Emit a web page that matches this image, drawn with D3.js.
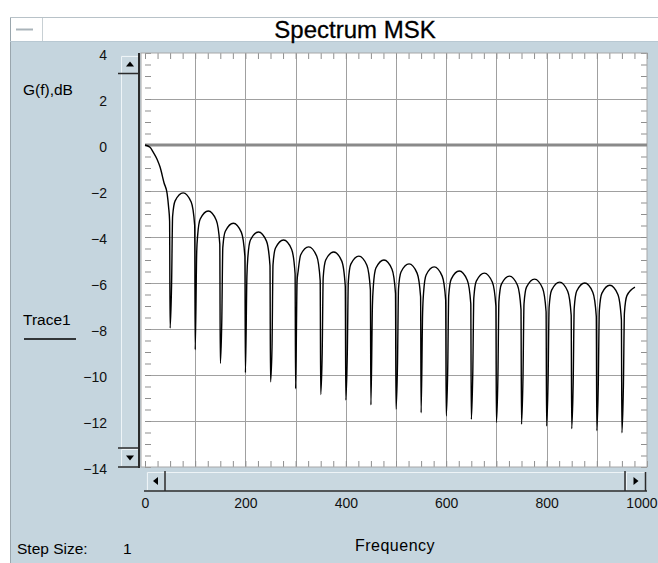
<!DOCTYPE html>
<html>
<head>
<meta charset="utf-8">
<script src="https://cdnjs.cloudflare.com/ajax/libs/d3/7.8.5/d3.min.js"></script>
<style>
  body { margin: 0; background: #fff; }
  svg { display: block; font-family: "Liberation Sans", Arial, sans-serif; }
</style>
</head>
<body>
<div id="chart"></div>
<script>
var title = 'Spectrum MSK'
var yLabel = 'G(f),dB'
var xLabel = 'Frequency'
var traceName = 'Trace1'
var stepLabel = 'Step Size:'
var stepSize = 1
var xTicks = [0, 200, 400, 600, 800, 1000]
var yTicks = [4, 2, 0, -2, -4, -6, -8, -10, -12, -14]

// main lobe, 0..49
var mainFreq = [0, 10, 16, 24, 30, 38, 44, 47, 49]
var mainDb = [0, -0.1, -0.3, -0.62, -0.96, -1.65, -2.1, -2.7, -3.3]

// nulls: deep tip of each spike and the end of its thick part
var nullFreq = [50, 100, 150, 200, 250, 300, 350, 400, 450, 500, 550, 600, 650, 700, 750, 800, 850, 900, 950]
var nullDeep = [-7.96, -8.9, -9.5, -9.9, -10.3, -10.6, -10.85, -11.09, -11.3, -11.49, -11.64, -11.78, -11.93, -12.07, -12.14, -12.22, -12.33, -12.42, -12.51]
var nullMid = [-6.0, -4.65, -7.6, -5.7, -8.8, -5.9, -9.0, -9.06, -7.0, -9.5, -7.3, -9.78, -9.86, -10.07, -10.07, -10.2, -10.29, -10.36, -10.48]

// side lobes after each null (last one is cut at 975)
var lobePeak = [-2.08, -2.87, -3.4, -3.78, -4.13, -4.43, -4.65, -4.83, -5.0, -5.17, -5.3, -5.48, -5.57, -5.7, -5.83, -5.96, -6.0, -6.1, -6.18]
var lobeEdgeIn = [-3.1, -3.9, -4.45, -4.85, -5.2, -5.5, -5.75, -5.95, -6.1, -6.25, -6.4, -6.55, -6.65, -6.8, -6.9, -7.05, -7.1, -7.2, -7.3]
var lobeRise = [-2.43, -3.22, -3.75, -4.13, -4.48, -4.78, -5.0, -5.18, -5.35, -5.52, -5.65, -5.83, -5.92, -6.05, -6.18, -6.31, -6.35, -6.45, -6.55]
var lobeFall = [-2.48, -3.27, -3.8, -4.18, -4.53, -4.83, -5.05, -5.23, -5.4, -5.57, -5.7, -5.88, -5.97, -6.1, -6.23, -6.36, -6.4, -6.5]
var lobeEdgeOut = [-3.5, -4.3, -4.85, -5.25, -5.6, -5.9, -6.15, -6.3, -6.45, -6.6, -6.75, -6.9, -7.0, -7.15, -7.25, -7.4, -7.45, -7.6]

var W = 658, H = 563
var bg = '#c5d5de'

var svg = d3.select('#chart').append('svg')
  .attr('width', W)
  .attr('height', H)

// ---------- frame / title bar ----------
svg.append('rect').attr('x', 0).attr('y', 0).attr('width', W).attr('height', H).attr('fill', '#fff')
svg.append('rect').attr('x', 10).attr('y', 41).attr('width', W - 10).attr('height', H - 41).attr('fill', bg)
svg.append('line').attr('x1', 10.5).attr('x2', 10.5).attr('y1', 17).attr('y2', H).attr('stroke', '#9aa6ad')
svg.append('line').attr('x1', 10).attr('x2', W).attr('y1', 17.5).attr('y2', 17.5).attr('stroke', '#b8c2c8')
svg.append('line').attr('x1', 10).attr('x2', W).attr('y1', 41.5).attr('y2', 41.5).attr('stroke', '#b8c8d2')
svg.append('line').attr('x1', 42.5).attr('x2', 42.5).attr('y1', 18).attr('y2', 41).attr('stroke', '#c8d0d4')
svg.append('line').attr('x1', 16).attr('x2', 33).attr('y1', 29.5).attr('y2', 29.5).attr('stroke', '#aab4ba').attr('stroke-width', 2)

svg.append('text')
  .attr('x', 355).attr('y', 38)
  .attr('text-anchor', 'middle')
  .attr('font-size', 24)
  .attr('fill', '#000')
  .attr('stroke', '#000').attr('stroke-width', 0.3)
  .text(title)

// ---------- scales ----------
var x = d3.scaleLinear().domain([0, 1000]).range([145, 647])
var y = d3.scaleLinear().domain([-14, 4]).range([467, 53])

// plot area
svg.append('rect')
  .attr('x', 141).attr('y', y(4))
  .attr('width', x(1000) - 141).attr('height', y(-14) - y(4))
  .attr('fill', '#fff')

// grid
var gridX = d3.range(100, 1000, 100)
var gridY = d3.range(-12, 4, 2).filter(function(d){ return d !== 0 })
svg.append('g').selectAll('line').data(gridX).enter().append('line')
  .attr('x1', function(d){ return Math.round(x(d)) + 0.5 })
  .attr('x2', function(d){ return Math.round(x(d)) + 0.5 })
  .attr('y1', y(4)).attr('y2', y(-14))
  .attr('stroke', '#a0a0a0')
svg.append('g').selectAll('line').data(gridY).enter().append('line')
  .attr('y1', function(d){ return Math.round(y(d)) + 0.5 })
  .attr('y2', function(d){ return Math.round(y(d)) + 0.5 })
  .attr('x1', x(0)).attr('x2', x(1000))
  .attr('stroke', '#a0a0a0')

// minor ticks on all four sides, pointing inwards
function tickStyle(g){
  g.select('.domain').remove()
  g.selectAll('.tick line').attr('stroke', '#8f8f8f')
  g.selectAll('.tick text').remove()
}
var minorX = d3.range(0, 1001, 25)
var minorY = d3.range(-14, 4.01, 0.5)
svg.append('g').attr('transform', 'translate(0,' + y(4) + ')')
  .call(d3.axisBottom(x).tickValues(minorX).tickSize(6)).call(tickStyle)
svg.append('g').attr('transform', 'translate(0,' + y(-14) + ')')
  .call(d3.axisTop(x).tickValues(minorX).tickSize(6)).call(tickStyle)
svg.append('g').attr('transform', 'translate(' + x(0) + ',0)')
  .call(d3.axisRight(y).tickValues(minorY).tickSize(6)).call(tickStyle)
svg.append('g').attr('transform', 'translate(' + x(1000) + ',0)')
  .call(d3.axisLeft(y).tickValues(minorY).tickSize(6)).call(tickStyle)

// plot border
svg.append('rect')
  .attr('x', 141).attr('y', y(4))
  .attr('width', x(1000) - 141).attr('height', y(-14) - y(4))
  .attr('fill', 'none').attr('stroke', '#a8a8a8')

// zero line
svg.append('line')
  .attr('x1', x(0)).attr('x2', x(1000))
  .attr('y1', y(0)).attr('y2', y(0))
  .attr('stroke', '#8a8a8a').attr('stroke-width', 3)

// ---------- trace ----------
var pts = []
for (var i = 0; i < mainFreq.length; i++) pts.push([mainFreq[i], mainDb[i]])
for (var k = 0; k < nullFreq.length; k++) {
  var f = nullFreq[k]
  pts.push([f, nullDeep[k]])
  pts.push([f + 3, nullMid[k]])
  pts.push([f + 5, lobeEdgeIn[k]])
  pts.push([f + 10, lobeRise[k]])
  pts.push([f + 26, lobePeak[k]])
  if (k < lobeFall.length) {
    pts.push([f + 42, lobeFall[k]])
    pts.push([f + 49, lobeEdgeOut[k]])
  }
}

var line = d3.line()
  .x(function(d){ return x(d[0]) })
  .y(function(d){ return y(d[1]) })
  .curve(d3.curveMonotoneX)

svg.append('path')
  .datum(pts)
  .attr('d', line)
  .attr('fill', 'none')
  .attr('stroke', '#000')
  .attr('stroke-width', 1.4)

// ---------- scrollbars ----------
function button(gx, gy, w, h, dir){
  var g = svg.append('g')
  g.append('rect').attr('x', gx).attr('y', gy).attr('width', w).attr('height', h).attr('fill', '#c9d8e0')
  g.append('path').attr('d', 'M' + (gx + 0.5) + ',' + (gy + h) + 'V' + (gy + 0.5) + 'H' + (gx + w))
    .attr('stroke', '#eef4f7').attr('fill', 'none')
  var cx = gx + w / 2, cy = gy + h / 2, s = 4
  var p
  if (dir === 'up') p = [[cx - s, cy + 2], [cx + s, cy + 2], [cx, cy - 3]]
  if (dir === 'down') p = [[cx - s, cy - 2], [cx + s, cy - 2], [cx, cy + 3]]
  if (dir === 'left') p = [[cx + 2, cy - s], [cx + 2, cy + s], [cx - 3, cy]]
  if (dir === 'right') p = [[cx - 2, cy - s], [cx - 2, cy + s], [cx + 3, cy]]
  g.append('path').attr('d', 'M' + p.join('L') + 'Z').attr('fill', '#000')
}

// vertical
svg.append('rect').attr('x', 121).attr('y', 55).attr('width', 18).attr('height', 411).attr('fill', '#c9d8e0')
svg.append('line').attr('x1', 121.5).attr('x2', 121.5).attr('y1', 73).attr('y2', 448).attr('stroke', '#eef4f7')
button(121, 56, 18, 17, 'up')
button(121, 449, 18, 17, 'down')
svg.append('line').attr('x1', 118).attr('x2', 140).attr('y1', 73.5).attr('y2', 73.5).attr('stroke', '#2b2b2b').attr('stroke-width', 1.5)
svg.append('line').attr('x1', 118).attr('x2', 140).attr('y1', 448).attr('y2', 448).attr('stroke', '#2b2b2b').attr('stroke-width', 1.5)
svg.append('line').attr('x1', 118).attr('x2', 140).attr('y1', 467).attr('y2', 467).attr('stroke', '#2b2b2b').attr('stroke-width', 1.5)
svg.append('line').attr('x1', 139).attr('x2', 139).attr('y1', 53).attr('y2', 468).attr('stroke', '#2b2b2b').attr('stroke-width', 2)

// horizontal
svg.append('rect').attr('x', 146).attr('y', 472).attr('width', 500).attr('height', 18).attr('fill', '#c9d8e0')
svg.append('line').attr('x1', 165).attr('x2', 625).attr('y1', 472.5).attr('y2', 472.5).attr('stroke', '#eef4f7')
button(147, 472, 18, 18, 'left')
button(626, 472, 19, 18, 'right')
svg.append('line').attr('x1', 165).attr('x2', 165).attr('y1', 471).attr('y2', 491).attr('stroke', '#2b2b2b').attr('stroke-width', 1.5)
svg.append('line').attr('x1', 625).attr('x2', 625).attr('y1', 471).attr('y2', 491).attr('stroke', '#2b2b2b').attr('stroke-width', 1.5)
svg.append('line').attr('x1', 645.5).attr('x2', 645.5).attr('y1', 472).attr('y2', 491).attr('stroke', '#2b2b2b').attr('stroke-width', 1.5)
svg.append('line').attr('x1', 144).attr('x2', 647).attr('y1', 491).attr('y2', 491).attr('stroke', '#2b2b2b').attr('stroke-width', 1.5)

// ---------- tick labels ----------
var yAxis = svg.append('g').attr('transform', 'translate(107,2)')
  .call(d3.axisLeft(y).tickValues(yTicks).tickSize(0).tickPadding(0).tickFormat(d3.format('d')))
yAxis.select('.domain').remove()
yAxis.selectAll('text').attr('font-size', 14).attr('font-family', '"Liberation Sans", Arial, sans-serif').attr('fill', '#111')

var xAxis = svg.append('g').attr('transform', 'translate(0,498)')
  .call(d3.axisBottom(x).tickValues(xTicks).tickSize(0).tickPadding(0).tickFormat(d3.format('d')))
xAxis.select('.domain').remove()
xAxis.selectAll('text').attr('font-size', 14).attr('font-family', '"Liberation Sans", Arial, sans-serif').attr('fill', '#111')
// the last label sits against the right edge of the window
xAxis.selectAll('text').filter(function(d){ return d === 1000 })
  .attr('text-anchor', 'end').attr('x', W - 1 - x(1000))

// ---------- labels ----------
svg.append('text').attr('x', 23).attr('y', 95).attr('font-size', 15.5).text(yLabel)
svg.append('text').attr('x', 23).attr('y', 325).attr('font-size', 15.5).text(traceName)
svg.append('line').attr('x1', 24).attr('x2', 76).attr('y1', 339).attr('y2', 339).attr('stroke', '#000').attr('stroke-width', 1.3)
svg.append('text').attr('x', 395).attr('y', 551).attr('text-anchor', 'middle').attr('font-size', 16).attr('letter-spacing', 0.5).text(xLabel)
svg.append('text').attr('x', 17).attr('y', 554).attr('font-size', 15.5).text(stepLabel)
svg.append('text').attr('x', 123).attr('y', 554).attr('font-size', 15.5).text(stepSize)
</script>
</body>
</html>
